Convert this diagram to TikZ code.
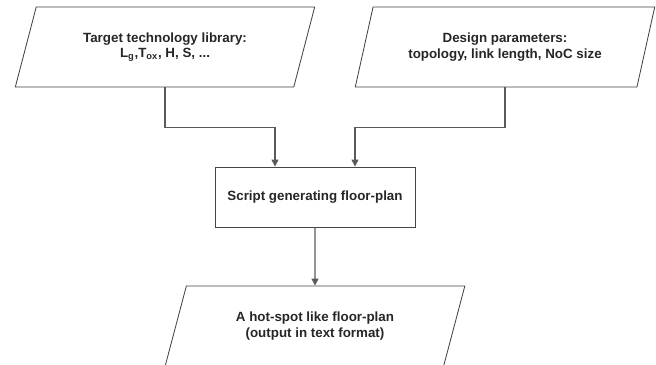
\documentclass[tikz,border=0pt]{standalone}
\usepackage{fontspec}
\setmainfont{Liberation Sans}
\usepackage{xcolor}
\usetikzlibrary{arrows.meta, calc, shapes.geometric}
\definecolor{edge}{HTML}{444444}
\definecolor{wire}{HTML}{5A5A5A}
\tikzset{
    iobox/.style={trapezium, trapezium left angle=65, trapezium right angle=115,
        trapezium stretches=true, draw=edge, line width=0.6pt,
        minimum width=7.5cm, minimum height=2cm, align=center, inner sep=0pt},
    blk/.style={draw=edge, line width=0.6pt, minimum width=5cm, minimum height=1.5cm},
    fl/.style={>={Triangle[length=5pt, width=5pt]}, font=\fontsize{9.5}{11}\selectfont\bfseries,
        text=black!85}
}
\begin{document}
\begin{tikzpicture}[fl]
        \useasboundingbox (0,0) rectangle (16.4,9.125);
        \node[iobox] (lib) at (4.125,7.95) {Target technology library:\\L\textsubscript{g},T\textsubscript{ox}, H, S, ...};
        \node[iobox] (par) at (12.625,7.95) {Design parameters:\\topology, link length, NoC size};
        \node[blk] (gen) at (7.875,4.2) {Script generating floor-plan};
        \node[iobox] (out) at (7.875,0.975) {A hot-spot like floor-plan\\(output in text format)};
        \coordinate (inl) at ($(gen.north)+(-1,0)$);
        \coordinate (inr) at ($(gen.north)+(1,0)$);

        \draw[->, wire, line width=0.8pt] (lib.south) -- ++(0,-1) -| (inl);
        \draw[->, wire, line width=0.8pt] (par.south) -- ++(0,-1) -| (inr);
        \draw[->, wire, line width=0.8pt] (gen.south) -- (out.north);
    \end{tikzpicture}
\end{document}
